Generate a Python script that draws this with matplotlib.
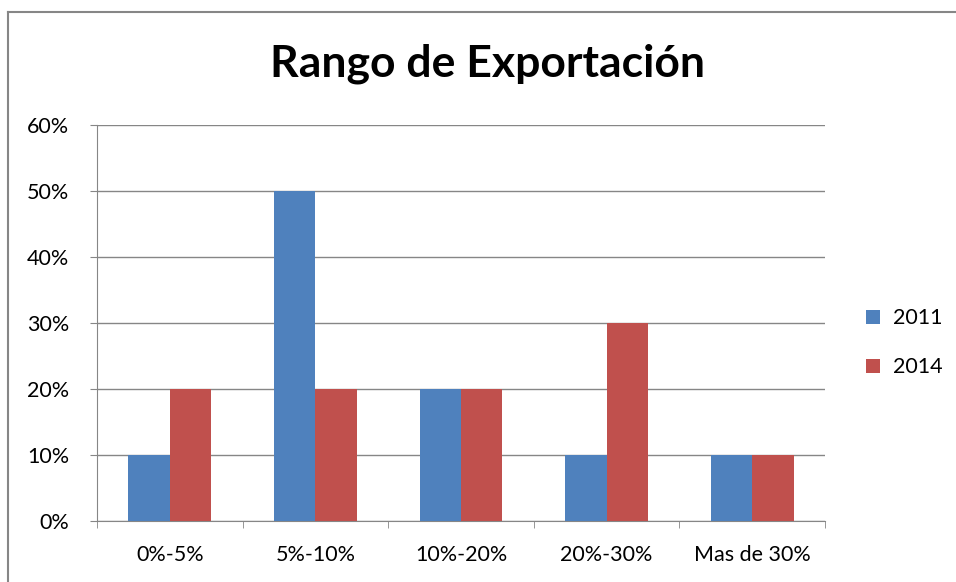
import matplotlib.pyplot as plt
from matplotlib.lines import Line2D
import numpy as np

plt.rcParams['font.family'] = ['Lato', 'DejaVu Sans']

categories = ['0%-5%', '5%-10%', '10%-20%', '20%-30%', 'Mas de 30%']
vals_2011 = [10, 50, 20, 10, 10]
vals_2014 = [20, 20, 20, 30, 10]
yticks = [0, 10, 20, 30, 40, 50, 60]

fig = plt.figure(figsize=(9.56, 5.82), dpi=100)
ax = fig.add_axes([97 / 956, 1 - 521 / 582, 728 / 956, 396 / 582])

x = np.arange(len(categories))
w = 0.285
ax.bar(x - w / 2, vals_2011, w, color='#4F81BD', label='2011', zorder=3)
ax.bar(x + w / 2, vals_2014, w, color='#C0504D', label='2014', zorder=3)

ax.set_xlim(-0.5, len(categories) - 0.5)
ax.set_ylim(0, 60)
ax.set_yticks(yticks)
ax.set_yticklabels([f'{t}%' for t in yticks], fontsize=15.5)
ax.set_xticks(x)
ax.set_xticklabels(categories, fontsize=15.5)
ax.tick_params(axis='x', length=0, pad=17)
ax.tick_params(axis='y', length=5, color='#868686', pad=15)
ax.set_xticks(np.arange(-0.5, len(categories)), minor=True)
ax.tick_params(axis='x', which='minor', length=5, color='#868686')
ax.grid(axis='y', color='#868686', linewidth=1, zorder=0)
for s in ['top', 'right']:
    ax.spines[s].set_visible(False)
for s in ['left', 'bottom']:
    ax.spines[s].set_color('#868686')

fig.text(0.510, 0.89, 'Rango de Exportación', ha='center', va='center',
         fontsize=32, fontweight='bold')

ax.legend(loc='center left', bbox_to_anchor=(1.03, 0.45), frameon=False,
          fontsize=15.5, handlelength=0.65, handleheight=0.65, labelspacing=1.35,
          handletextpad=0.6)

# outer frame (left and top edges only)
fig.add_artist(Line2D([8 / 956, 8 / 956], [0, 1 - 12 / 582], transform=fig.transFigure,
                      color='#868686', linewidth=1.5))
fig.add_artist(Line2D([8 / 956, 1], [1 - 12 / 582, 1 - 12 / 582], transform=fig.transFigure,
                      color='#868686', linewidth=1.5))

fig.savefig('out.png', dpi=100)
